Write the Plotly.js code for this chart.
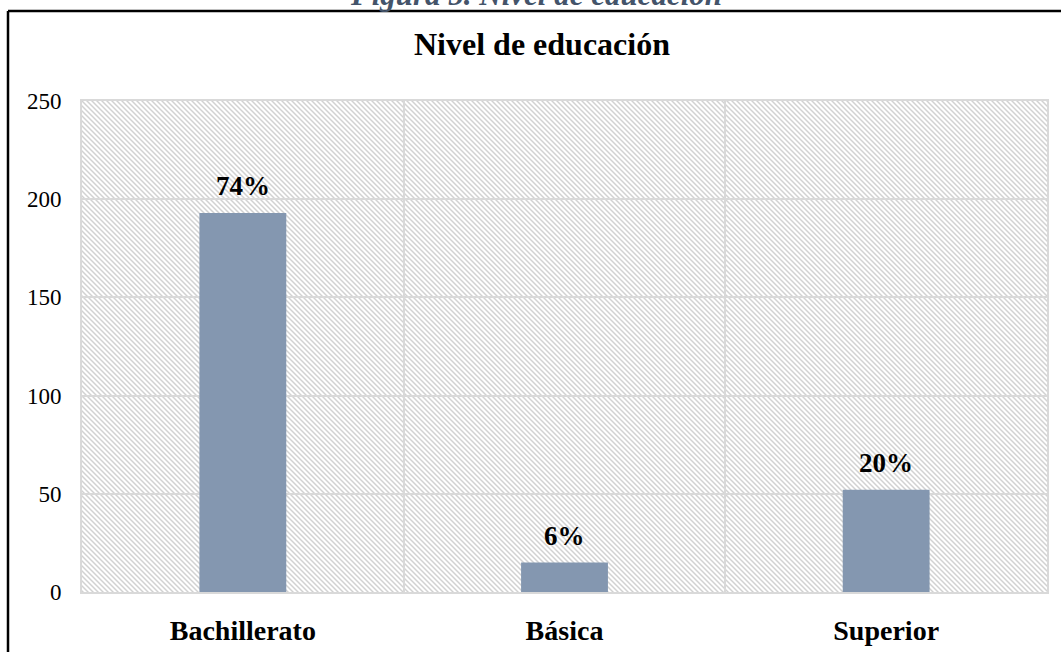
<!DOCTYPE html>
<html>
<head>
<meta charset="utf-8">
<script src="https://cdn.plot.ly/plotly-3.0.1.min.js"></script>
<style>
  html, body { margin: 0; padding: 0; background: #ffffff; }
  #chart { width: 1061px; height: 652px; }
</style>
</head>
<body>
<div id="chart"></div>
<script>
// ---- Data ----
const categories = ["Bachillerato", "Básica", "Superior"];
const counts = [193, 15, 52];
const percentLabels = ["74%", "6%", "20%"];
const yTickValues = [0, 50, 100, 150, 200, 250];

const chartTitle = "Nivel de educación";
const captionText = "Figura 5. Nivel de educación";

// ---- Layout geometry ----
const W = 1061, H = 652;
const M = { l: 82, r: 14, t: 101, b: 60 };
const plotW = W - M.l - M.r;
const plotH = H - M.t - M.b;
const px2x = px => (px - M.l) / plotW;
const py2y = py => (H - M.b - py) / plotH;

const serif = "'Liberation Serif', 'Times New Roman', serif";

// Diagonal hatch background for the plot area
const hatchSvg =
  '<svg xmlns="http://www.w3.org/2000/svg" width="' + plotW + '" height="' + plotH + '">' +
  '<defs><pattern id="h" patternUnits="userSpaceOnUse" width="5" height="5">' +
  '<path d="M-1,-1 L6,6 M-1,4 L1,6 M4,-1 L6,1" stroke="#d2d2d2" stroke-width="1.5"/>' +
  '</pattern></defs>' +
  '<rect width="100%" height="100%" fill="#ffffff"/>' +
  '<rect width="100%" height="100%" fill="url(#h)"/></svg>';
const hatchUri = "data:image/svg+xml;charset=utf-8," + encodeURIComponent(hatchSvg);

const trace = {
  type: "bar",
  x: categories,
  y: counts,
  marker: { color: "#8497B0", line: { width: 0 } },
  hoverinfo: "x+y"
};

const annotations = categories.map((c, i) => ({
  x: c,
  y: counts[i],
  xref: "x",
  yref: "y",
  text: "<b>" + percentLabels[i] + "</b>",
  showarrow: false,
  yanchor: "bottom",
  yshift: 10,
  font: { family: serif, size: 27, color: "#000000" }
}));

annotations.push({
  xref: "paper",
  yref: "paper",
  x: px2x(536),
  y: 1,
  yanchor: "middle",
  xanchor: "center",
  yshift: 107,
  showarrow: false,
  text: "<b><i>" + captionText + "</i></b>",
  font: { family: serif, size: 31, color: "#44546A" }
});

const layout = {
  width: W,
  height: H,
  margin: M,
  paper_bgcolor: "#ffffff",
  plot_bgcolor: "#ffffff",
  showlegend: false,
  bargap: 0.73,
  title: {
    text: "<b>" + chartTitle + "</b>",
    font: { family: serif, size: 32, color: "#000000" },
    xref: "container",
    yref: "container",
    x: 542 / W,
    xanchor: "center",
    y: 1 - 44 / H,
    yanchor: "middle"
  },
  xaxis: {
    type: "category",
    range: [-0.5, 2.5],
    tickson: "boundaries",
    showgrid: true,
    gridcolor: "#d9d9d9",
    gridwidth: 2,
    showline: true,
    linecolor: "#d9d9d9",
    linewidth: 2,
    mirror: true,
    ticks: "",
    ticklabelstandoff: 12,
    tickfont: { family: serif, size: 28, color: "#000000", weight: "bold" },
    fixedrange: true
  },
  yaxis: {
    range: [0, 250],
    tickvals: yTickValues,
    ticktext: yTickValues.map(String),
    showgrid: true,
    gridcolor: "#d9d9d9",
    gridwidth: 2,
    zeroline: false,
    showline: true,
    linecolor: "#d9d9d9",
    linewidth: 2,
    mirror: true,
    ticks: "",
    ticklabelstandoff: 14,
    tickfont: { family: serif, size: 23, color: "#000000" },
    fixedrange: true
  },
  images: [{
    source: hatchUri,
    xref: "paper",
    yref: "paper",
    x: 0,
    y: 1,
    sizex: 1,
    sizey: 1,
    xanchor: "left",
    yanchor: "top",
    sizing: "stretch",
    layer: "below"
  }],
  shapes: [
    { type: "line", xref: "paper", yref: "paper",
      x0: px2x(8), x1: px2x(W + 20), y0: py2y(11), y1: py2y(11),
      line: { color: "#000000", width: 2.5 } },
    { type: "line", xref: "paper", yref: "paper",
      x0: px2x(8), x1: px2x(8), y0: py2y(11), y1: py2y(H + 20),
      line: { color: "#000000", width: 2.5 } }
  ],
  annotations: annotations
};

Plotly.newPlot("chart", [trace], layout, { displayModeBar: false, staticPlot: true });
</script>
</body>
</html>
